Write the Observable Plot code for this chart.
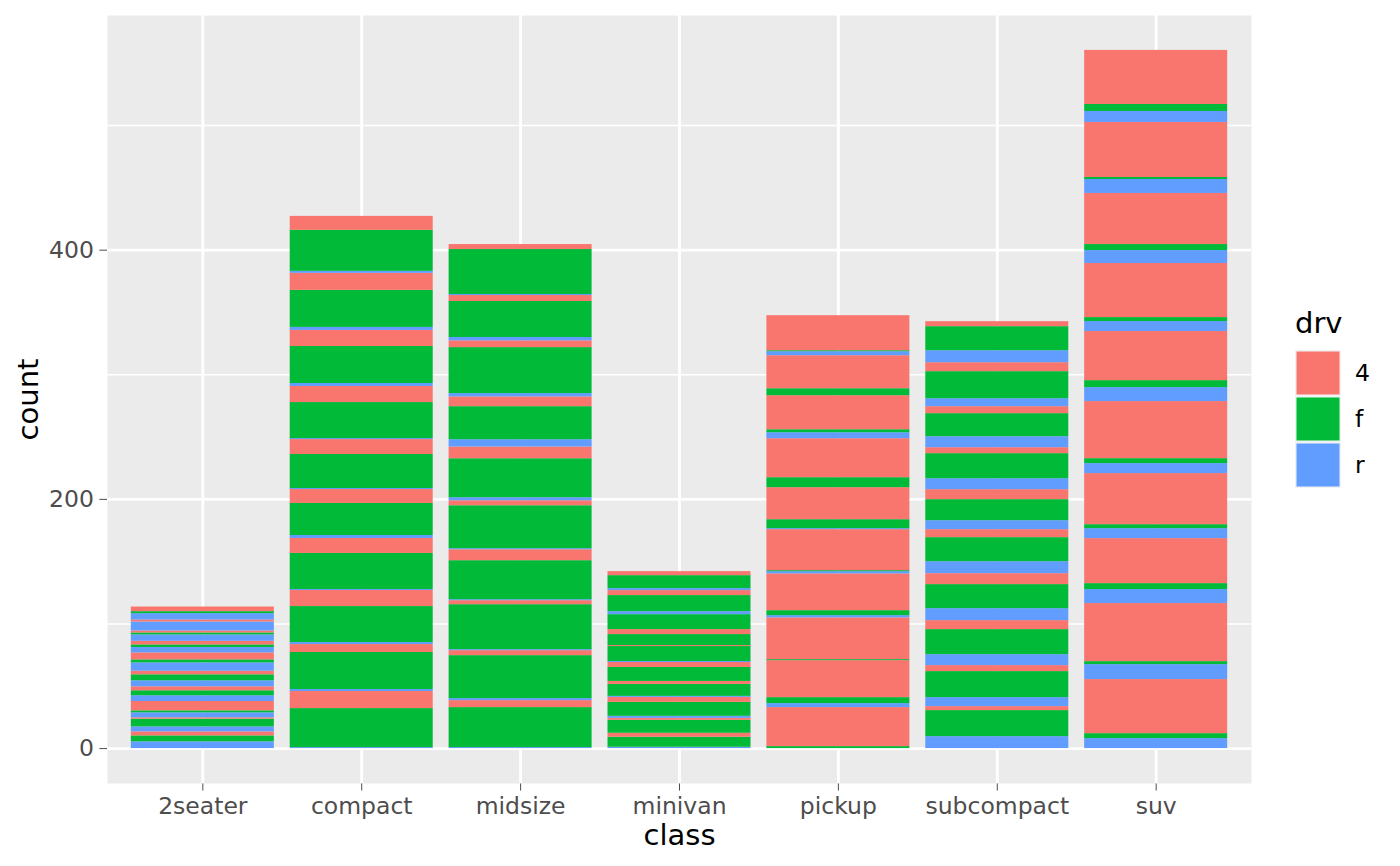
<!DOCTYPE html>
<html>
<head>
<meta charset="utf-8">
<script src="https://cdn.jsdelivr.net/npm/d3@7"></script>
<script src="https://cdn.jsdelivr.net/npm/@observablehq/plot@0.6"></script>
<style>
  html, body { margin: 0; padding: 0; background: #ffffff; }
  #wrap { position: relative; width: 1400px; height: 866px; overflow: hidden; }
  #legend { position: absolute; left: 0; top: 0; }
</style>
</head>
<body>
<div id="wrap"></div>
<script>
// Categories and levels
const classes = ["2seater", "compact", "midsize", "minivan", "pickup", "subcompact", "suv"];
const drvLevels = ["4", "f", "r"];
const drvColors = ["#F8766D", "#00BA38", "#619CFF"];
const yTicks = [0, 200, 400];
const yMinor = [100, 300, 500];

// Each class: 10 stacked groups, each [r, f, 4] from bottom to top
const twoseater = [[5.4,4.8,3.2],[4.0,6.2,1.1],[4.0,1.6,7.5],[4.6,4.0,3.2],[4.8,4.8,2.9],[6.7,2.4,5.6],[4.3,2.1,2.9],[5.1,1.6,1.6],[7.2,0,1.6],[5.1,1.6,3.7]];
const compact = [[0.8,31.3,13.7],[1.6,29.7,6.4],[1.6,28.9,12.9],[0.8,28.9,12.0],[2.4,25.7,11.2],[0.8,27.3,12.0],[0.8,28.9,12.9],[2.4,29.7,12.9],[2.4,29.7,13.7],[1.6,32.9,11.2]];
const midsize = [[0.8,32.1,5.6],[1.6,34.5,4.0],[0.8,36.1,3.2],[0.8,31.3,8.8],[0.8,34.5,4.0],[2.4,31.3,9.4],[5.9,26.5,7.8],[2.7,36.9,5.4],[2.7,28.9,4.8],[0.8,36.1,4.0]];
const minivan = [[1.1,8.0,3.2],[0,10.4,1.6],[1.6,11.2,4.0],[0.8,9.6,2.4],[0,11.2,4.0],[0.8,12.0,0.8],[0,8.8,4.0],[0,12.0,0],[2.4,12.9,4.0],[1.6,10.4,3.2]];
const pickup = [[0,1.6,31.3],[3.2,4.8,29.7],[0,0.8,33.5],[1.8,4.0,29.5],[1.8,0.8,32.9],[0.8,7.2,25.7],[0,8.0,31.3],[4.8,2.4,27.3],[0,5.6,26.5],[3.2,0.8,28.1]];
const subcompact = [[9.6,20.9,3.2],[7.2,20.9,4.8],[8.8,20.1,7.2],[9.6,19.3,8.8],[9.6,19.3,6.4],[7.2,16.9,8.0],[8.8,20.1,4.8],[8.8,18.5,5.6],[6.4,21.7,7.2],[9.6,19.3,4.0]];
const suv = [[8.0,4.0,43.4],[12.0,2.4,46.6],[11.2,4.8,36.1],[8.0,3.2,41.0],[8.0,4.0,45.8],[11.2,5.6,39.4],[8.0,3.2,43.4],[10.4,4.8,41.0],[11.2,1.6,44.2],[8.8,5.6,43.4]];

const byClass = [twoseater, compact, midsize, minivan, pickup, subcompact, suv];
const stackOrder = ["r", "f", "4"]; // bottom to top within a group

const rows = [];
classes.forEach((c, ci) => {
  byClass[ci].forEach((g, gi) => {
    g.forEach((v, k) => rows.push({cls: c, drv: stackOrder[k], count: v, grp: gi}));
  });
});

const W = 1400, H = 866;
const mL = 107, mR = 149, mT = 15, mB = 83;
const totals = byClass.map(a => d3.sum(a, g => d3.sum(g)));
const yMax = d3.max(totals);
const yLo = -0.05 * yMax, yHi = yMax * 1.05;

const chart = Plot.plot({
  width: W,
  height: H,
  marginLeft: mL,
  marginRight: mR,
  marginTop: mT,
  marginBottom: mB,
  style: {fontSize: "23.5px", fontFamily: "DejaVu Sans", color: "#4D4D4D", background: "#ffffff"},
  x: {type: "band", domain: classes, paddingInner: 0.1, paddingOuter: 0.15, round: false, label: null, tickSize: 7.6, tickPadding: 6},
  y: {domain: [yLo, yHi], ticks: yTicks, tickFormat: d => String(d), label: null, tickSize: 7.6, tickPadding: 6},
  color: {domain: drvLevels, range: drvColors},
  marks: [
    Plot.frame({fill: "#EBEBEB", stroke: null}),
    Plot.ruleY(yMinor, {stroke: "#ffffff", strokeWidth: 1.45}),
    Plot.ruleY(yTicks, {stroke: "#ffffff", strokeWidth: 2.9}),
    Plot.ruleX(classes, {x: d => d, stroke: "#ffffff", strokeWidth: 2.9}),
    Plot.barY(rows, {x: "cls", y: "count", fill: "drv", order: null}),
    Plot.text(["class"], {frameAnchor: "bottom", dy: 52, lineAnchor: "middle", textAnchor: "middle", text: d => d, fontSize: 29, fill: "#000000"}),
    Plot.text(["count"], {frameAnchor: "left", dx: -79, rotate: -90, lineAnchor: "middle", textAnchor: "middle", text: d => d, fontSize: 29, fill: "#000000"})
  ]
});

const wrap = document.getElementById("wrap");
wrap.appendChild(chart);

// Legend (ggplot style, right side)
const leg = d3.select(wrap).append("svg")
  .attr("id", "legend").attr("width", W).attr("height", H)
  .style("pointer-events", "none");
leg.append("text").attr("x", 1295).attr("y", 333)
  .attr("font-family", "DejaVu Sans").attr("font-size", 29).attr("fill", "#000").text("drv");
const keyX = 1295, keyY0 = 350, keyS = 46;
drvLevels.forEach((lv, i) => {
  const y = keyY0 + i * keyS;
  leg.append("rect").attr("x", keyX).attr("y", y).attr("width", keyS).attr("height", keyS).attr("fill", "#F2F2F2");
  leg.append("rect").attr("x", keyX + 1.5).attr("y", y + 1.5).attr("width", keyS - 3).attr("height", keyS - 3).attr("fill", drvColors[i]);
  leg.append("text").attr("x", keyX + keyS + 14).attr("y", y + keyS / 2).attr("dy", "0.35em")
    .attr("font-family", "DejaVu Sans").attr("font-size", 23.5).attr("fill", "#000").text(lv);
});
</script>
</body>
</html>
